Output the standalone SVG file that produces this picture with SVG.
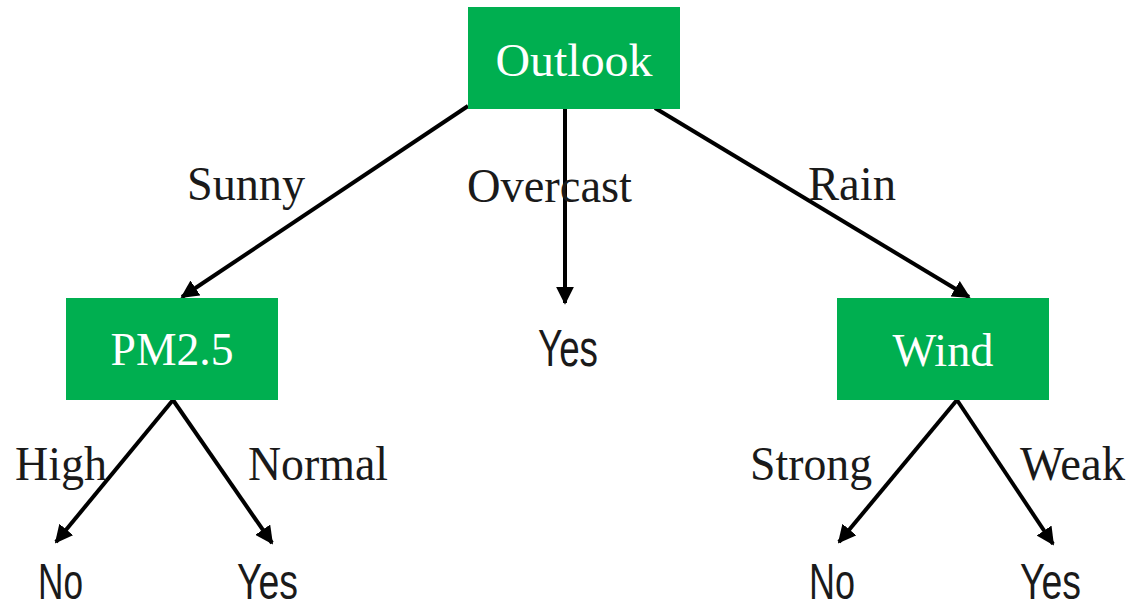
<svg xmlns="http://www.w3.org/2000/svg" width="1130" height="611" viewBox="0 0 1130 611">
  <style>
    .box { fill: #00AF50; }
    .boxlabel { fill: #ffffff; font-family: "Liberation Serif", "DejaVu Serif", serif; font-size: 46px; text-anchor: middle; }
    .edgelabel { fill: #1a1a1a; font-family: "Liberation Serif", "Times New Roman", serif; font-size: 48px; }
    .leaf { fill: #1a1a1a; font-family: "Liberation Sans", Arial, sans-serif; font-size: 52px; }
    .leaf-low { font-size: 50px; }
    .edge { stroke: #000; stroke-width: 4; fill: none; marker-end: url(#arrow); }
  </style>
  <defs>
    <marker id="arrow" viewBox="0 0 10 10" refX="9" refY="5" markerWidth="4.5" markerHeight="4.5" orient="auto" markerUnits="strokeWidth">
      <path d="M0,0 L10,5 L0,10 z" fill="#000"/>
    </marker>
  </defs>
  <rect width="1130" height="611" fill="#ffffff"/>

  <g id="connectors">
    <line class="edge" x1="468" y1="106" x2="182" y2="297"/>
    <line class="edge" x1="565" y1="109" x2="565" y2="303"/>
    <line class="edge" x1="655" y1="108" x2="969" y2="297"/>
    <line class="edge" x1="173" y1="400" x2="56" y2="542"/>
    <line class="edge" x1="173" y1="400" x2="272" y2="543"/>
    <line class="edge" x1="957" y1="400" x2="839" y2="542"/>
    <line class="edge" x1="957" y1="400" x2="1053" y2="544"/>
  </g>

  <g id="edge-labels">
    <text class="edgelabel" x="187" y="200" textLength="118" lengthAdjust="spacingAndGlyphs">Sunny</text>
    <text class="edgelabel" x="467" y="202" textLength="165" lengthAdjust="spacingAndGlyphs">Overcast</text>
    <text class="edgelabel" x="808" y="200" textLength="88" lengthAdjust="spacingAndGlyphs">Rain</text>
    <text class="edgelabel" x="15" y="480" textLength="92" lengthAdjust="spacingAndGlyphs">High</text>
    <text class="edgelabel" x="248" y="480" textLength="140" lengthAdjust="spacingAndGlyphs">Normal</text>
    <text class="edgelabel" x="750" y="480" textLength="122" lengthAdjust="spacingAndGlyphs">Strong</text>
    <text class="edgelabel" x="1020" y="480" textLength="105" lengthAdjust="spacingAndGlyphs">Weak</text>
  </g>

  <g id="node-outlook">
    <rect class="box" x="468" y="7" width="212" height="102"/>
    <text class="boxlabel" x="574" y="76" textLength="157" lengthAdjust="spacingAndGlyphs">Outlook</text>
  </g>

  <g id="node-pm25">
    <rect class="box" x="66" y="298" width="212" height="102"/>
    <text class="boxlabel" x="172" y="365" textLength="123" lengthAdjust="spacingAndGlyphs">PM2.5</text>
  </g>

  <g id="node-wind">
    <rect class="box" x="837" y="298" width="212" height="102"/>
    <text class="boxlabel" x="943" y="366" textLength="101" lengthAdjust="spacingAndGlyphs">Wind</text>
  </g>

  <g id="leaf-overcast-yes">
    <text class="leaf" x="538" y="366" textLength="60" lengthAdjust="spacingAndGlyphs">Yes</text>
  </g>
  <g id="leaf-high-no">
    <text class="leaf leaf-low" x="38" y="599" textLength="45" lengthAdjust="spacingAndGlyphs">No</text>
  </g>
  <g id="leaf-normal-yes">
    <text class="leaf leaf-low" x="237" y="599" textLength="61" lengthAdjust="spacingAndGlyphs">Yes</text>
  </g>
  <g id="leaf-strong-no">
    <text class="leaf leaf-low" x="809" y="599" textLength="46" lengthAdjust="spacingAndGlyphs">No</text>
  </g>
  <g id="leaf-weak-yes">
    <text class="leaf leaf-low" x="1020" y="599" textLength="61" lengthAdjust="spacingAndGlyphs">Yes</text>
  </g>
</svg>
